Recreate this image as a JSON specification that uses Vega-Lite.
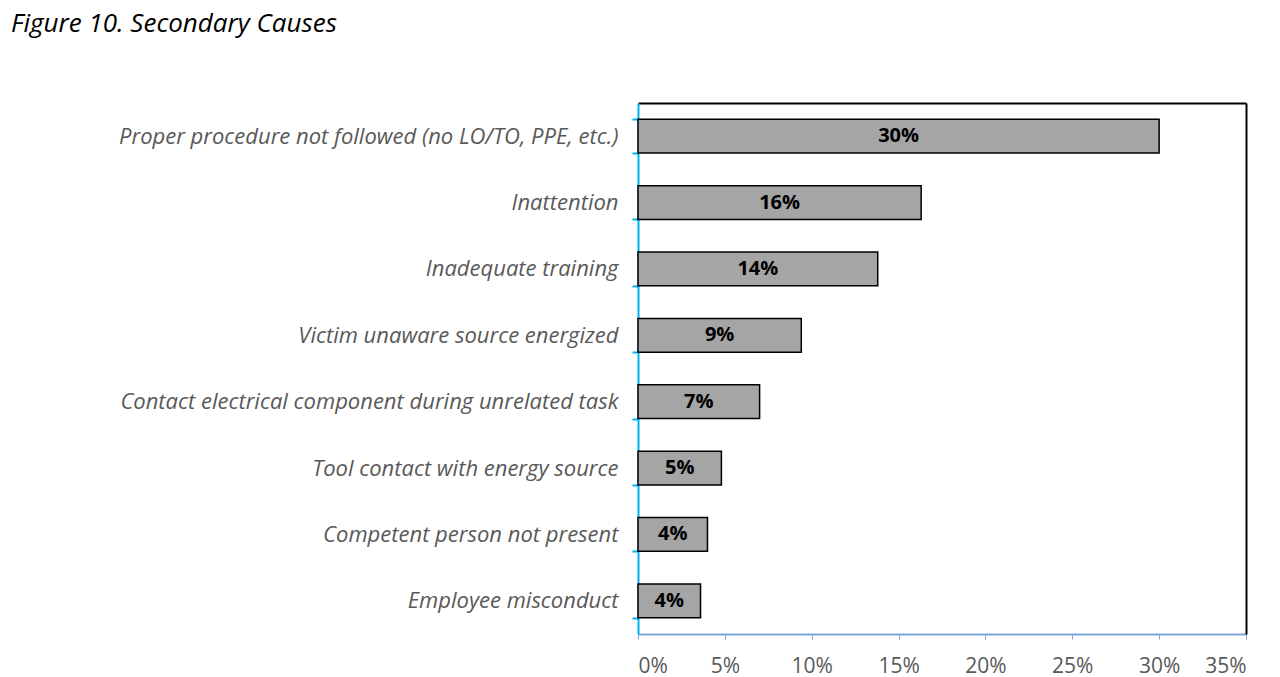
{
  "$schema": "https://vega.github.io/schema/vega-lite/v6.json",
  "autosize": "none",
  "width": 608,
  "height": 531,
  "padding": {"left": 638, "top": 103, "right": 34, "bottom": 43},
  "background": "white",
  "title": {
    "text": "Figure 10. Secondary Causes",
    "anchor": "start",
    "frame": "group",
    "font": "Open Sans",
    "fontSize": 26,
    "fontStyle": "italic",
    "fontWeight": "normal",
    "color": "#000000",
    "baseline": "alphabetic",
    "offset": 0,
    "dx": -627,
    "dy": -34
  },
  "data": {
    "values": [
      {"cause": "Proper procedure not followed (no LO/TO, PPE, etc.)", "value": 0.300},
      {"cause": "Inattention", "value": 0.163},
      {"cause": "Inadequate training", "value": 0.138},
      {"cause": "Victim unaware source energized", "value": 0.094},
      {"cause": "Contact electrical component during unrelated task", "value": 0.070},
      {"cause": "Tool contact with energy source", "value": 0.048},
      {"cause": "Competent person not present", "value": 0.040},
      {"cause": "Employee misconduct", "value": 0.036}
    ]
  },
  "config": {
    "view": {"stroke": null},
    "axis": {"grid": false}
  },
  "resolve": {"axis": {"x": "independent", "y": "independent"}},
  "layer": [
    {
      "mark": {"type": "bar", "fill": "#A5A5A5", "stroke": "#000000", "strokeWidth": 1.5},
      "encoding": {
        "y": {
          "field": "cause",
          "type": "nominal",
          "sort": null,
          "scale": {"paddingInner": 0.49, "paddingOuter": 0.245},
          "axis": {
            "title": null,
            "orient": "left",
            "tickBand": "extent",
            "domainColor": "#00B0F0",
            "domainWidth": 2,
            "tickColor": "#00B0F0",
            "tickWidth": 2,
            "tickSize": 6,
            "labelPadding": 14,
            "labelFont": "Open Sans",
            "labelFontSize": 22,
            "labelFontStyle": "italic",
            "labelColor": "#595959",
            "labelLimit": 700
          }
        },
        "x": {
          "field": "value",
          "type": "quantitative",
          "scale": {"domain": [0, 0.35], "nice": false},
          "axis": {
            "title": null,
            "orient": "bottom",
            "values": [0, 0.05, 0.1, 0.15, 0.2, 0.25, 0.3, 0.35],
            "format": ".0%",
            "domainColor": "#7EA6D8",
            "domainWidth": 2,
            "tickColor": "#7EA6D8",
            "tickWidth": 1,
            "tickSize": 5,
            "labelPadding": 16,
            "labelFont": "Open Sans",
            "labelFontSize": 21,
            "labelColor": "#595959"
          }
        }
      }
    },
    {
      "transform": [{"calculate": "datum.value / 2", "as": "mid"}],
      "mark": {"type": "text", "font": "Open Sans", "fontSize": 20, "fontWeight": "bold", "color": "#000000", "align": "center", "baseline": "middle"},
      "encoding": {
        "y": {
          "field": "cause",
          "type": "nominal",
          "sort": null,
          "axis": {"title": null, "orient": "right", "labels": false, "ticks": false, "domainColor": "#000000", "domainWidth": 2}
        },
        "x": {
          "field": "mid",
          "type": "quantitative",
          "axis": {"title": null, "orient": "top", "labels": false, "ticks": false, "domainColor": "#000000", "domainWidth": 2}
        },
        "text": {"field": "value", "type": "quantitative", "format": ".0%"}
      }
    }
  ]
}
